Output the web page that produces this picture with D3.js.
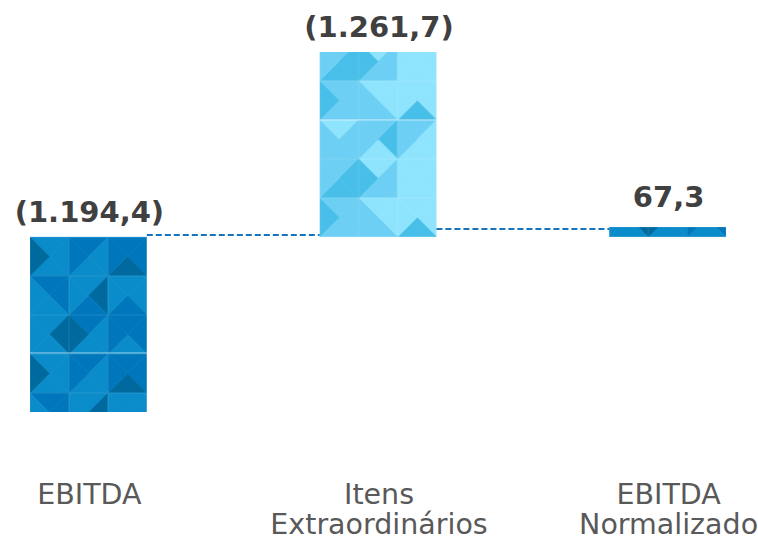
<!DOCTYPE html>
<html>
<head>
<meta charset="utf-8">
<script src="https://cdn.jsdelivr.net/npm/d3@7"></script>
<style>
  html, body { margin: 0; padding: 0; background: #ffffff; }
  svg { display: block; }
</style>
</head>
<body>
<svg id="chart" width="758" height="541"></svg>
<script>
// ---------------- DATA ----------------
const categories = ["EBITDA", "Itens Extraordinários", "EBITDA Normalizado"];
const categoryLines = [["EBITDA"], ["Itens", "Extraordinários"], ["EBITDA", "Normalizado"]];
const values = [-1194.4, 1261.7, 67.3];
const valueLabels = ["(1.194,4)", "(1.261,7)", "67,3"];
// connector levels (in data units) between consecutive bars
const connectorLevels = [15, 52];

// ---------------- LAYOUT ----------------
const svg = d3.select("#chart");

const x = d3.scaleBand()
  .domain(categories)
  .range([30, 726])
  .paddingInner(0.5966)
  .paddingOuter(0);

const y = d3.scaleLinear()
  .domain([d3.min(values), d3.max(values)])
  .range([412, 52]);

const y0 = y(0);

// ---------------- PATTERNS ----------------
const tile = 39;
const darkPalette = ["#0a8bca", "#0077bc", "#006a9f"];
const lightPalette = ["#8fe4fd", "#6dcff4", "#48bfe8"];
// each tile: [top, right, bottom, left] palette indices
const darkLayout = [
  [[0,0,0,2],[1,0,0,1],[1,1,2,1]],
  [[1,1,0,0],[0,2,1,0],[0,0,1,0]],
  [[0,2,0,0],[1,0,0,2],[1,1,0,1]]
];
const lightLayout = [
  [[0,1,1,1],[1,2,0,1],[1,0,0,1]],
  [[1,2,2,1],[0,1,1,2],[0,0,0,0]],
  [[1,1,1,2],[0,0,1,1],[0,0,2,0]]
];
const patternKinds = ["dark", "light", "dark"];

const defs = svg.append("defs");

function makePattern(id, layout, palette, px, py) {
  const p = defs.append("pattern")
    .attr("id", id)
    .attr("patternUnits", "userSpaceOnUse")
    .attr("x", px).attr("y", py)
    .attr("width", tile * 3).attr("height", tile * 3);
  layout.forEach((row, r) => {
    row.forEach((cell, c) => {
      const cx = c * tile, cy = r * tile, s = tile;
      const mx = cx + s / 2, my = cy + s / 2;
      const tris = [
        [[cx, cy], [cx + s, cy], [mx, my]],
        [[cx + s, cy], [cx + s, cy + s], [mx, my]],
        [[cx + s, cy + s], [cx, cy + s], [mx, my]],
        [[cx, cy + s], [cx, cy], [mx, my]]
      ];
      tris.forEach((t, i) => {
        const col = palette[cell[i]];
        p.append("path")
          .attr("d", "M" + t.map(q => q.join(",")).join("L") + "Z")
          .attr("fill", col)
          .attr("stroke", col)
          .attr("stroke-width", 0.6);
      });
      p.append("rect")
        .attr("x", cx + 0.25).attr("y", cy + 0.25)
        .attr("width", s - 0.5).attr("height", s - 0.5)
        .attr("fill", "none")
        .attr("stroke", "#ffffff")
        .attr("stroke-opacity", 0.12)
        .attr("stroke-width", 0.5);
    });
  });
  return "url(#" + id + ")";
}

// ---------------- BARS ----------------
const bars = values.map((v, i) => {
  const top = Math.min(y(v), y0);
  const bottom = Math.max(y(v), y0);
  return { i, cat: categories[i], v, top, bottom, h: bottom - top, x: x(categories[i]) };
});

bars.forEach(b => {
  const kind = patternKinds[b.i];
  const fill = makePattern("pat" + b.i,
    kind === "dark" ? darkLayout : lightLayout,
    kind === "dark" ? darkPalette : lightPalette,
    b.x, kind === "dark" && b.v < 0 ? y0 : y0 - tile * 3);
  svg.append("rect")
    .attr("x", b.x).attr("y", b.top)
    .attr("width", x.bandwidth()).attr("height", b.h)
    .attr("fill", fill);
  if (b.h > tile * 3) {
    const seamY = b.v < 0 ? y0 + tile * 3 - 1 : y0 - tile * 3;
    svg.append("line")
      .attr("x1", b.x).attr("x2", b.x + x.bandwidth())
      .attr("y1", seamY).attr("y2", seamY)
      .attr("stroke", "#ffffff").attr("stroke-opacity", 0.55).attr("stroke-width", 1);
  }
});

bars.filter(b => b.v < 0).forEach(b => {
  svg.append("line")
    .attr("x1", b.x).attr("x2", b.x + x.bandwidth())
    .attr("y1", b.top + 0.5).attr("y2", b.top + 0.5)
    .attr("stroke", "#1a8fd6").attr("stroke-width", 1);
});

// ---------------- CONNECTORS ----------------
connectorLevels.forEach((lvl, i) => {
  const a = bars[i], b = bars[i + 1];
  const ly = Math.round(y(lvl));
  svg.append("line")
    .attr("x1", a.x + x.bandwidth()).attr("x2", b.x)
    .attr("y1", ly).attr("y2", ly)
    .attr("stroke", "#1673bd")
    .attr("stroke-width", 2)
    .attr("stroke-dasharray", "6,3");
});

// ---------------- VALUE LABELS ----------------
bars.forEach(b => {
  const gap = Math.max(15, 30 - b.h);
  svg.append("text")
    .attr("x", b.x + x.bandwidth() / 2 + 1)
    .attr("y", b.top - gap)
    .attr("text-anchor", "middle")
    .attr("font-family", "DejaVu Sans, Verdana, sans-serif")
    .attr("font-weight", "bold")
    .attr("font-size", 29)
    .attr("fill", "#404040")
    .text(valueLabels[b.i]);
});

// ---------------- CATEGORY LABELS ----------------
categories.forEach((c, i) => {
  const t = svg.append("text")
    .attr("text-anchor", "middle")
    .attr("font-family", "DejaVu Sans, Verdana, sans-serif")
    .attr("font-size", 28.5)
    .attr("fill", "#595959");
  categoryLines[i].forEach((ln, k) => {
    t.append("tspan")
      .attr("x", x(c) + x.bandwidth() / 2 + 1)
      .attr("y", 504 + k * 30)
      .text(ln);
  });
});
</script>
</body>
</html>
